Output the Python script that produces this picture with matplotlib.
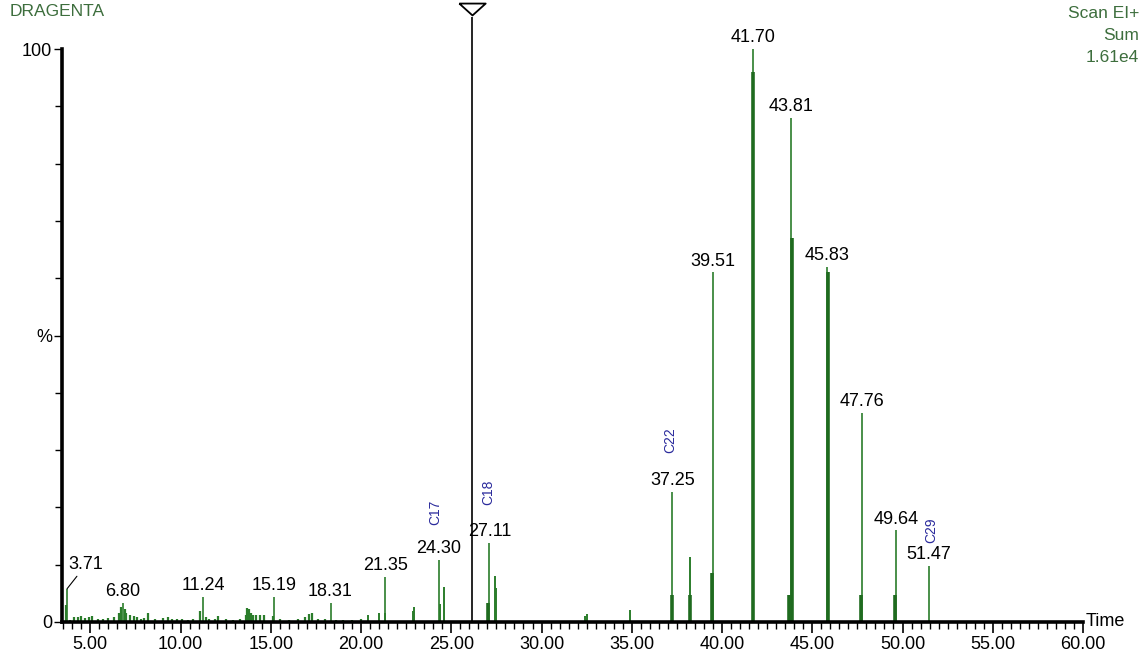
import matplotlib.pyplot as plt
from matplotlib.ticker import MultipleLocator

plt.rcParams['font.family'] = ['Liberation Sans', 'DejaVu Sans']

# labelled peaks: retention time (min) and relative abundance (%)
peak_times = [3.71, 6.80, 11.24, 15.19, 18.31, 21.35, 24.30, 27.11, 37.25,
              39.51, 41.70, 43.81, 45.83, 47.76, 49.64, 51.47]
peak_heights = [5.8, 3.3, 4.4, 4.4, 3.3, 7.9, 10.8, 13.8, 22.7,
                61.0, 100.0, 88.0, 62.0, 36.5, 16.0, 9.8]

# shoulders / co-eluting peaks drawn thicker
shoulder_times = [27.05, 37.22, 38.20, 39.45, 41.72, 43.70, 43.86, 45.85, 47.72, 49.60]
shoulder_heights = [3.3, 4.7, 4.7, 8.6, 96.0, 4.7, 67.0, 61.0, 4.7, 4.7]

# other unlabelled peaks
minor_times = [20.40, 21.00, 21.30, 22.85, 22.95, 24.40, 24.60, 27.40, 27.45,
               32.40, 32.50, 34.90, 38.22]
minor_heights = [1.2, 1.5, 1.5, 2.0, 2.6, 3.1, 6.1, 8.0, 5.9,
                 1.0, 1.4, 2.1, 11.3]

# low-level baseline clutter
noise_times = [3.65, 3.90, 4.10, 4.30, 4.50, 4.70, 4.90, 5.10, 5.40, 5.70, 6.00,
               6.30, 6.60, 6.70, 6.90, 7.00, 7.20, 7.40, 7.60, 7.80, 8.00, 8.20,
               8.60, 9.00, 9.30, 9.50, 9.80, 10.10, 10.40, 10.70, 11.10, 11.40,
               11.60, 11.90, 12.10, 12.50, 12.90, 13.30, 13.60, 13.70, 13.80,
               13.90, 14.00, 14.20, 14.40, 14.60, 15.10, 15.50, 16.00, 16.50,
               16.90, 17.10, 17.30, 17.60, 18.00, 18.60, 19.00, 19.50, 20.00]
noise_heights = [3.0, 0.4, 0.8, 0.9, 1.0, 0.7, 0.9, 1.0, 0.6, 0.5, 0.7,
                 0.8, 1.5, 2.6, 2.2, 1.6, 1.2, 1.0, 0.8, 0.6, 0.7, 1.6,
                 0.5, 0.7, 0.9, 0.6, 0.5, 0.6, 0.4, 0.6, 2.0, 0.8,
                 0.6, 0.5, 1.0, 0.5, 0.4, 0.5, 1.2, 2.4, 2.3, 1.5, 1.3,
                 1.2, 1.3, 1.2, 1.0, 0.5, 0.4, 0.6, 0.8, 1.4, 1.6, 0.5,
                 0.6, 0.4, 0.3, 0.4, 0.5]

compound_labels = ['C17', 'C18', 'C22', 'C29']
compound_times = [24.10, 27.04, 37.12, 51.60]
compound_heights = [16.9, 20.4, 29.5, 13.7]

marker_time = 26.15

green = '#2b7d2b'
dark_green = '#1f6b1f'

fig = plt.figure(figsize=(11.44, 6.58), dpi=100)
ax = fig.add_axes([62 / 1144, 36 / 658, 1021 / 1144, 573 / 658])

ax.vlines(noise_times, 0, noise_heights, color=green, lw=1.6)
ax.vlines(minor_times, 0, minor_heights, color=green, lw=1.4)
ax.vlines(peak_times, 0, peak_heights, color=green, lw=1.2)
ax.vlines(shoulder_times, 0, shoulder_heights, color=dark_green, lw=2.6)

# reference marker line with open triangle on top
ax.vlines([marker_time], 0, 105.5, color='black', lw=1.2, clip_on=False)
tri = [(-1, 0.45), (1, 0.45), (0, -0.45), (-1, 0.45)]
ax.plot([marker_time], [107.0], marker=tri, ms=19, mfc='white', mec='black',
        mew=1.3, clip_on=False)

for t, h in zip(peak_times, peak_heights):
    if t == 3.71:
        ax.annotate('%.2f' % t, xy=(t, h), xytext=(1, 11), textcoords='offset points',
                    ha='left', va='bottom', fontsize=13,
                    arrowprops=dict(arrowstyle='-', color='black', lw=0.8,
                                    shrinkA=0, shrinkB=0))
    else:
        ax.annotate('%.2f' % t, xy=(t, h), xytext=(0, 2), textcoords='offset points',
                    ha='center', va='bottom', fontsize=13, annotation_clip=False)

for lab, t, h in zip(compound_labels, compound_times, compound_heights):
    ax.text(t, h, lab, rotation=90, ha='center', va='bottom', fontsize=10,
            color='#2a2a9c')

ax.set_xlim(3.43, 60)
ax.set_ylim(0, 100)

for s in ['top', 'right']:
    ax.spines[s].set_visible(False)
ax.spines['left'].set_linewidth(2.6)
ax.spines['bottom'].set_linewidth(2.6)

ax.xaxis.set_major_locator(MultipleLocator(5))
ax.xaxis.set_minor_locator(MultipleLocator(0.5))
ax.xaxis.set_major_formatter(lambda v, p: '%.2f' % v)
ax.tick_params(axis='x', which='major', length=8, width=1.2, labelsize=13, pad=2)
ax.tick_params(axis='x', which='minor', length=5, width=1.0)

ax.set_yticks([0, 50, 100])
ax.set_yticklabels(['0', '%', '100'])
ax.yaxis.set_minor_locator(MultipleLocator(10))
ax.tick_params(axis='y', which='major', length=6, width=1.0, labelsize=13, pad=1)
ax.tick_params(axis='y', which='minor', length=5, width=1.0)

ax.text(1.003, 0.0, 'Time', transform=ax.transAxes, ha='left', va='center', fontsize=13)

fig.text(10 / 1144, 1 - 12 / 658, 'DRAGENTA', ha='left', va='center', fontsize=12.5,
         color='#3d6e3d')
fig.text(1139 / 1144, 1 - 14 / 658, 'Scan EI+', ha='right', va='center', fontsize=12.5,
         color='#3d6e3d')
fig.text(1139 / 1144, 1 - 36 / 658, 'Sum', ha='right', va='center', fontsize=12.5,
         color='#3d6e3d')
fig.text(1139 / 1144, 1 - 57 / 658, '1.61e4', ha='right', va='center', fontsize=12.5,
         color='#3d6e3d')

fig.savefig('out.png', dpi=100)
